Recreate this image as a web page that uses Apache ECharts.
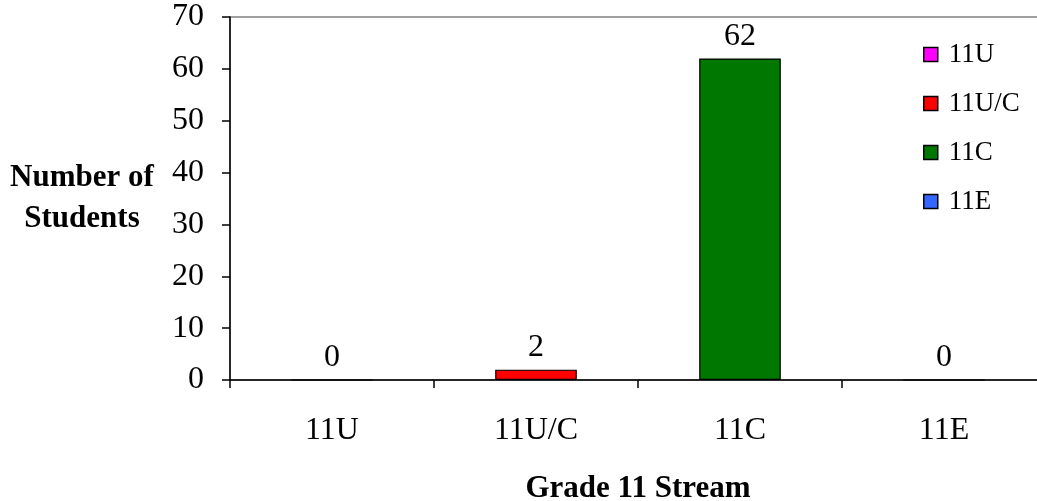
<!DOCTYPE html>
<html>
<head>
<meta charset="utf-8">
<script src="https://cdn.jsdelivr.net/npm/echarts@6/dist/echarts.min.js"></script>
<style>html,body{margin:0;padding:0;background:#fff}#c{width:1037px;height:501px}</style>
</head>
<body>
<div id="c"></div>
<script>
const categories = ['11U', '11U/C', '11C', '11E'];
const values = [0, 2, 62, 0];
const colors = ['#ff00ff', '#ff0000', '#007800', '#3366ff'];
const yTicks = { min: 0, max: 70, interval: 10 };

const FONT = '"Liberation Serif", "Times New Roman", serif';
const series = categories.map((name, i) => ({
  name: name,
  type: 'bar',
  stack: 'all',
  barWidth: '40%',
  data: categories.map((c, j) => (j === i ? values[i] : '-')),
  itemStyle: { color: colors[i], borderColor: '#000', borderWidth: 1.2 },
  label: { show: true, position: 'top', distance: 6, color: '#000', fontSize: 32, fontFamily: FONT },
  emphasis: { disabled: true }
}));

const chart = echarts.init(document.getElementById('c'), null, { renderer: 'canvas' });
chart.setOption({
  animation: false,
  backgroundColor: '#fff',
  grid: { left: 230, top: 17, width: 816, height: 363, outerBoundsMode: 'none', containLabel: false, show: true, borderColor: '#808080', borderWidth: 1.5, backgroundColor: 'transparent' },
  legend: {
    orient: 'vertical', left: 918, top: 36,
    itemWidth: 14, itemHeight: 14, itemGap: 22, icon: 'rect',
    itemStyle: { borderColor: '#000', borderWidth: 1.5 },
    textStyle: { fontFamily: FONT, fontSize: 27, color: '#000', lineHeight: 25, padding: [0, 0, 0, 6] },
    data: categories
  },
  xAxis: {
    type: 'category', data: categories,
    axisLine: { lineStyle: { color: '#000', width: 1.5 } },
    axisTick: { show: true, length: 8, lineStyle: { color: '#000', width: 1.5 } },
    axisLabel: { color: '#000', fontSize: 32, fontFamily: FONT, margin: 35 },
    name: 'Grade 11 Stream', nameLocation: 'middle', nameGap: 109,
    nameTextStyle: { fontFamily: FONT, fontWeight: 'bold', fontSize: 31, color: '#000', verticalAlign: 'middle' }
  },
  yAxis: {
    type: 'value', min: yTicks.min, max: yTicks.max, interval: yTicks.interval,
    splitLine: { show: false },
    axisLine: { show: true, lineStyle: { color: '#000', width: 1.5 } },
    axisTick: { show: true, length: 8, lineStyle: { color: '#000', width: 1.5 } },
    axisLabel: { color: '#000', fontSize: 32, fontFamily: FONT, margin: 26 },
    name: 'Number of\nStudents', nameLocation: 'middle', nameGap: 148, nameRotate: 0,
    nameTextStyle: { fontFamily: FONT, fontWeight: 'bold', fontSize: 31, color: '#000', align: 'center', verticalAlign: 'middle', lineHeight: 41 }
  },
  series: series
});
</script>
</body>
</html>
